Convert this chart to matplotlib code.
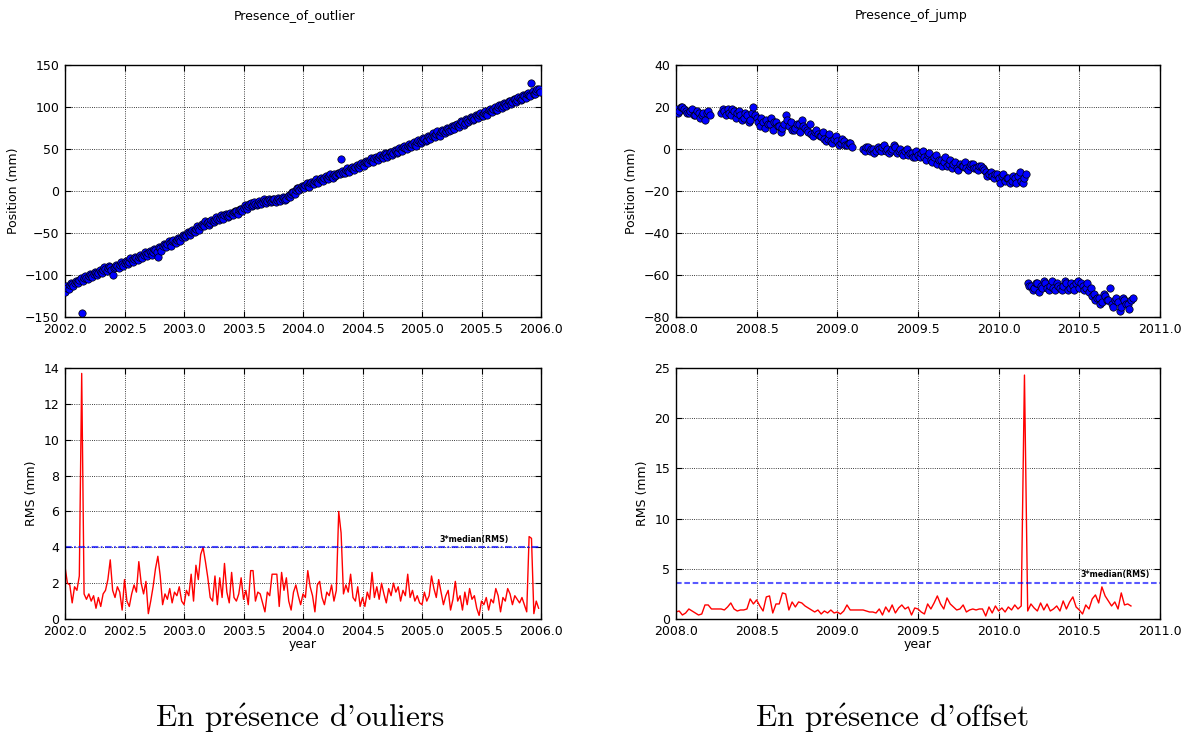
import numpy as np
import matplotlib
matplotlib.use("Agg")
import matplotlib.pyplot as plt

# ----------------------------
# Data (one sample every 0.02 yr,
# positions have a second interleaved set at +0.01 yr)
# ----------------------------
STEP = 0.02
T0_OUTLIER = 2002.0
T0_JUMP = 2008.0

# Position (mm), outlier case, 2002.00 -> 2005.98
pos_outlier = [
    -120, -115, -112, -111, -109, -108, -106, -145, -104, -103, -101, -100, -99, -97, -98, -96, -94, -93, -92, -90, -100, -91, -89, -88, -87,
    -86, -84, -85, -82, -81, -80, -79, -78, -76, -75, -74, -73, -72, -70, -79, -68, -66, -64, -63, -62, -60, -61, -58, -57, -55,
    -53, -52, -50, -49, -47, -45, -44, -42, -40, -36, -37, -38, -36, -35, -33, -32, -31, -29, -28, -30, -27, -25, -24, -23, -21,
    -20, -19, -18, -14, -17, -16, -15, -14, -13, -12, -12, -11, -12, -10, -11, -9, -10, -8, -9, -5, -3, -1, 1, 3, 4,
    5, 7, 6, 9, 10, 12, 11, 14, 13, 16, 15, 18, 17, 20, 19, 22, 38, 22, 25, 24, 27, 26, 29, 28, 31,
    32, 35, 34, 37, 36, 39, 38, 41, 40, 43, 44, 43, 46, 45, 48, 47, 50, 52, 51, 54, 53, 56, 55, 58, 60,
    59, 62, 61, 64, 66, 65, 68, 67, 70, 72, 71, 74, 73, 76, 78, 77, 80, 82, 81, 85, 84, 87, 86, 89, 91,
    90, 93, 92, 96, 95, 98, 97, 100, 102, 101, 104, 103, 107, 106, 109, 108, 111, 110, 113, 115, 114, 128, 116, 119, 121,
]
# interleaved samples, 2002.01 -> 2005.99
pos_outlier_b = [
    -113, -117, -110, -113, -107, -110, -104, -107, -101, -105, -99, -102, -96, -100, -94, -98, -91, -95, -89, -94, -92, -88, -92, -85, -89,
    -83, -87, -80, -84, -78, -82, -76, -80, -73, -77, -71, -76, -69, -73, -67, -71, -63, -67, -60, -65, -58, -62, -56, -59, -52,
    -55, -49, -52, -46, -49, -42, -46, -39, -42, -38, -40, -34, -37, -31, -35, -29, -33, -27, -31, -26, -29, -24, -27, -21, -24,
    -17, -21, -15, -18, -13, -17, -12, -16, -10, -14, -9, -13, -9, -13, -8, -12, -7, -11, -6, -7, -1, -3, 3, 1, 6,
    4, 9, 5, 11, 8, 14, 9, 16, 12, 18, 14, 20, 16, 18, 22, 20, 24, 21, 27, 23, 29, 25, 31, 27, 33,
    30, 36, 33, 39, 35, 41, 37, 43, 39, 45, 41, 47, 43, 49, 45, 51, 48, 54, 50, 56, 52, 58, 54, 61, 57,
    63, 60, 66, 62, 69, 64, 71, 66, 73, 69, 75, 71, 77, 74, 80, 76, 83, 79, 86, 82, 88, 84, 91, 87, 93,
    89, 95, 91, 98, 94, 100, 96, 102, 99, 105, 101, 107, 104, 110, 106, 112, 108, 114, 111, 117, 113, 119, 115, 121, 118,
]

# RMS (mm), outlier case
rms_outlier = [
    2.9, 2.0, 1.9, 0.9, 1.8, 1.6, 2.4, 13.7, 1.4, 1.1, 1.4, 1.0, 1.3, 0.6, 1.2, 0.7, 1.4, 1.6, 2.2, 3.3, 1.6, 1.2, 1.8, 1.5, 0.5,
    2.2, 1.0, 0.7, 1.4, 1.9, 1.5, 3.2, 2.0, 1.4, 2.1, 0.3, 1.0, 1.8, 2.8, 3.5, 2.4, 0.8, 1.4, 1.1, 1.7, 0.9, 1.5, 1.3, 1.8, 1.0,
    0.8, 1.6, 1.3, 2.5, 1.0, 3.0, 2.2, 3.6, 4.0, 3.2, 2.3, 1.2, 1.0, 2.4, 0.8, 2.3, 1.2, 3.1, 1.5, 0.9, 2.6, 1.2, 1.0, 1.4, 2.3,
    1.1, 1.6, 0.8, 2.7, 2.7, 1.0, 1.5, 1.4, 0.9, 0.4, 1.5, 1.3, 2.5, 2.5, 2.5, 0.7, 2.6, 1.6, 2.3, 1.0, 0.5, 1.5, 1.9, 1.3, 0.8,
    1.4, 1.2, 2.7, 1.8, 1.3, 0.4, 1.9, 2.1, 1.2, 0.8, 1.5, 1.3, 1.9, 1.0, 1.6, 6.0, 4.8, 1.4, 1.9, 1.5, 2.5, 1.2, 1.0, 1.8, 0.7,
    1.2, 0.7, 1.5, 1.1, 2.6, 1.2, 1.8, 1.1, 2.0, 1.4, 0.9, 1.7, 1.3, 2.0, 1.5, 1.8, 1.0, 1.6, 1.3, 2.5, 1.2, 1.6, 1.0, 1.3, 0.9,
    0.8, 1.5, 1.0, 1.3, 2.4, 1.7, 1.2, 2.2, 1.5, 0.8, 1.3, 1.6, 0.5, 1.1, 2.1, 1.0, 1.3, 0.5, 1.5, 0.8, 1.7, 1.1, 1.3, 0.6, 0.2,
    1.0, 0.8, 1.2, 0.5, 1.1, 0.9, 1.7, 1.3, 0.4, 1.2, 1.0, 1.7, 1.4, 0.8, 1.3, 1.1, 0.9, 1.2, 0.8, 0.4, 4.6, 4.5, 0.3, 1.0, 0.6,
]

nan = float("nan")
# Position (mm), jump case, 2008.00 -> 2010.82 (nan = no data)
pos_jump = [
    19, 18, 20, 18, 17, 19, 16, 17, 16, 14, 18, nan, nan, nan, 17, 18, 19, 16, 18, 17, 16, 15, 16, 14, 20,
    15, 11, 13, 14, 12, 9, 13, 11, 10, 16, 11, 9, 10, 12, 14, 10, 8, 7, 8, 7, 6, 5, 5, 4, 5,
    4, 3, 4, 2, 3, nan, nan, nan, 0, 1, -1, 0, -1, 0, 1, -1, -2, 0, 1, -1, -2, -1, -3, -2, -4,
    -3, -2, -4, -3, -5, -4, -7, -5, -6, -8, -5, -7, -9, -7, -8, -9, -8, -7, -9, -8, -9, -11, -12, -13, -12,
    -14, -13, -15, -14, -15, -14, -13, -15, -14, -64, -65, -66, -64, -65, -63, -66, -65, -66, -64, -66, -65, -64, -66, -65, -64,
    -66, -65, -66, -68, -70, -72, -71, -73, -70, -72, -74, -72, -73, -75, -72, -74, -72,
]
# interleaved samples, 2008.01 -> 2010.83
pos_jump_b = [
    17, 20, 19, 17, 18, 16, 18, 15, 17, 17, 16, nan, nan, nan, 19, 16, 17, 19, 15, 18, 14, 17, 13, 17, 16,
    13, 15, 10, 12, 15, 13, 11, 8, 12, 14, 13, 9, 12, 8, 11, 9, 12, 6, 9, 6, 8, 4, 7, 3, 6,
    2, 5, 2, 3, 1, nan, nan, nan, -1, 1, 0, -2, 1, -1, 2, 0, -1, 2, -2, 0, -3, 0, -2, -4, -1,
    -4, -1, -5, -2, -6, -3, -5, -8, -4, -7, -9, -6, -10, -8, -6, -10, -7, -9, -10, -8, -10, -13, -11, -14, -12,
    -16, -12, -14, -16, -13, -16, -11, -16, -12, -65, -67, -64, -68, -66, -64, -67, -63, -67, -65, -67, -63, -67, -64, -67, -63,
    -64, -67, -64, -66, -69, -71, -74, -69, -72, -66, -75, -71, -77, -71, -74, -76, -71,
]

# RMS (mm), jump case
rms_jump = [
    0.7, 0.8, 0.4, 0.6, 1.0, 0.8, 0.6, 0.4, 0.5, 1.4, 1.4, 1.0, 1.0, 1.0, 1.0, 0.9, 1.2, 1.6, 1.0, 0.8, 0.9, 0.9, 1.0, 2.0, 1.5,
    1.9, 1.3, 0.8, 2.2, 2.3, 0.6, 1.5, 1.5, 2.6, 2.5, 0.9, 1.7, 1.2, 1.7, 1.6, 1.3, 1.1, 0.9, 0.7, 0.9, 0.5, 0.8, 0.6, 0.9, 0.6,
    0.7, 0.5, 0.8, 1.4, 0.9, 0.9, 0.9, 0.9, 0.9, 0.8, 0.7, 0.7, 0.6, 1.0, 0.4, 1.2, 0.7, 1.4, 0.6, 1.1, 1.4, 1.0, 1.2, 0.4, 1.1,
    1.0, 0.7, 0.5, 1.5, 1.0, 1.6, 2.3, 1.5, 1.0, 2.1, 1.5, 1.2, 0.9, 1.0, 1.4, 0.7, 0.9, 1.0, 0.9, 1.0, 1.0, 0.3, 1.2, 0.6, 1.3,
    0.8, 1.1, 0.7, 1.2, 0.9, 1.4, 1.0, 1.3, 24.3, 0.8, 1.5, 1.1, 0.8, 1.6, 0.9, 1.5, 0.8, 1.0, 1.3, 0.8, 1.8, 1.0, 1.7, 2.2, 1.2,
    0.9, 0.5, 1.4, 1.0, 2.0, 2.4, 1.6, 3.2, 2.3, 1.8, 1.3, 1.7, 1.0, 2.6, 1.4, 1.5, 1.3,
]

# 3*median(RMS) thresholds
thr_outlier = 4.02
thr_jump = 3.6

titles = ["Presence_of_outlier", "Presence_of_jump"]
captions = [r"En pr$\acute{\mathrm{e}}$sence d'ouliers", r"En pr$\acute{\mathrm{e}}$sence d'offset"]


def epochs(t0, values, offset=0.0):
    return t0 + offset + STEP * np.arange(len(values))


# ----------------------------
# Style
# ----------------------------
plt.rcParams.update({
    "font.size": 9,
    "axes.linewidth": 1.0,
    "mathtext.fontset": "cm",
})

fig = plt.figure(figsize=(11.89, 7.33), dpi=100)

left_x, left_w = 0.0547, 0.4003
right_x, right_w = 0.5685, 0.4071
top_y, top_h = 0.5675, 0.3438
bot_y, bot_h = 0.1555, 0.3424

ax_po = fig.add_axes([left_x, top_y, left_w, top_h])
ax_ro = fig.add_axes([left_x, bot_y, left_w, bot_h])
ax_pj = fig.add_axes([right_x, top_y, right_w, top_h])
ax_rj = fig.add_axes([right_x, bot_y, right_w, bot_h])


def style(ax):
    ax.grid(True, color="k", linestyle=":", linewidth=0.6)
    ax.tick_params(direction="in", top=True, right=True, length=4, labelsize=9, pad=4)
    ax.xaxis.set_major_formatter(plt.FormatStrFormatter("%.1f"))


def scatter_pos(ax, t0, a, b):
    t = np.concatenate([epochs(t0, a), epochs(t0, b, 0.01)])
    y = np.concatenate([np.asarray(a, float), np.asarray(b, float)])
    order = np.argsort(t)
    ax.scatter(t[order], y[order], s=28, c="b", edgecolors="k", linewidths=0.5, zorder=3)


# ---------- outlier ----------
scatter_pos(ax_po, T0_OUTLIER, pos_outlier, pos_outlier_b)
ax_po.set_xlim(2002.0, 2006.0)
ax_po.set_ylim(-150, 150)
ax_po.set_xticks(np.arange(2002.0, 2006.01, 0.5))
ax_po.set_yticks(np.arange(-150, 151, 50))
ax_po.set_ylabel("Position (mm)")
style(ax_po)

t = epochs(T0_OUTLIER, rms_outlier)
ax_ro.plot(t, rms_outlier, color="r", lw=1.0)
ax_ro.axhline(thr_outlier, color="b", alpha=0.7, lw=1.5, ls=(0, (3.2, 1.2, 0.8, 1.2)))
ax_ro.text(2005.44, 4.2, "3*median(RMS)", fontsize=5.7, fontweight="bold", ha="center", va="bottom")
ax_ro.set_xlim(2002.0, 2006.0)
ax_ro.set_ylim(0, 14)
ax_ro.set_xticks(np.arange(2002.0, 2006.01, 0.5))
ax_ro.set_yticks(np.arange(0, 15, 2))
ax_ro.set_ylabel("RMS (mm)")
ax_ro.set_xlabel("year", labelpad=0)
style(ax_ro)

# ---------- jump ----------
scatter_pos(ax_pj, T0_JUMP, pos_jump, pos_jump_b)
ax_pj.set_xlim(2008.0, 2011.0)
ax_pj.set_ylim(-80, 40)
ax_pj.set_xticks(np.arange(2008.0, 2011.01, 0.5))
ax_pj.set_yticks(np.arange(-80, 41, 20))
ax_pj.set_ylabel("Position (mm)")
style(ax_pj)

t = epochs(T0_JUMP, rms_jump)
ax_rj.plot(t, rms_jump, color="r", lw=1.0)
ax_rj.axhline(thr_jump, color="b", alpha=0.65, lw=1.5, ls=(0, (2.7, 1.3)))
ax_rj.text(2010.72, 3.95, "3*median(RMS)", fontsize=5.7, fontweight="bold", ha="center", va="bottom")
ax_rj.set_xlim(2008.0, 2011.0)
ax_rj.set_ylim(0, 25)
ax_rj.set_xticks(np.arange(2008.0, 2011.01, 0.5))
ax_rj.set_yticks(np.arange(0, 26, 5))
ax_rj.set_ylabel("RMS (mm)")
ax_rj.set_xlabel("year", labelpad=0)
style(ax_rj)

# titles and captions
fig.text(0.248, 0.979, titles[0], ha="center", va="center", fontsize=9)
fig.text(0.766, 0.979, titles[1], ha="center", va="center", fontsize=9)
fig.text(0.252, 0.020, captions[0], ha="center", va="center", fontsize=22.5, family=["cmr10", "DejaVu Serif"])
fig.text(0.750, 0.020, captions[1], ha="center", va="center", fontsize=22.5, family=["cmr10", "DejaVu Serif"])

fig.savefig("out.png", dpi=100, facecolor="white")
